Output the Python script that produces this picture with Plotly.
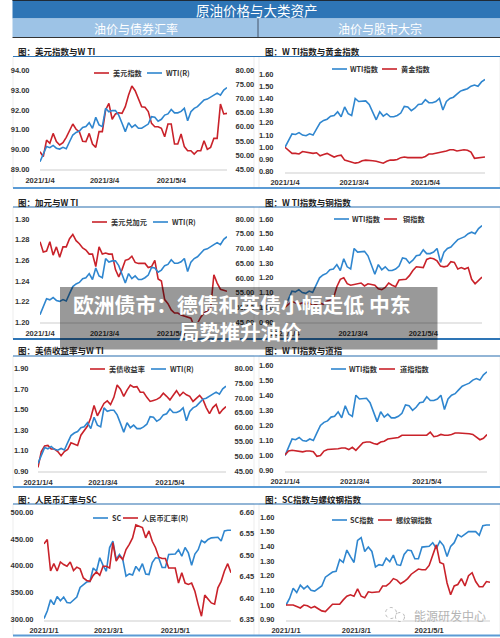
import pandas as pd
import plotly.graph_objects as go

# dates sampled every 3 days
dates_jan4 = pd.date_range("2021-01-04", periods=58, freq="3D")
dates_jan1 = pd.date_range("2021-01-01", periods=58, freq="3D")
ticks_jan4 = ["2021-01-04", "2021-03-04", "2021-05-04"]
ticks_jan1 = ["2021-01-01", "2021-03-01", "2021-05-01"]

wti_price = [47.6, 50.6, 53.0, 52.6, 53.4, 52.4, 52.1, 52.7, 52.2, 54.7, 57.1, 58.0, 58.5, 59.8, 60.1, 61.5, 59.5, 63.4, 60.7, 60.1,
             66.6, 65.4, 65.8, 65.8, 64.2, 61.3, 58.3, 61.5, 59.8, 60.7, 59.5, 59.5, 60.1, 61.0, 63.6, 63.4, 62.0, 62.7, 64.2, 64.6,
             66.2, 65.0, 65.0, 65.5, 66.6, 62.2, 65.4, 66.6, 67.2, 68.4, 69.6, 69.9, 70.5, 71.3, 72.0, 71.3, 73.1, 74.0]
wti_index = [1.00, 1.06, 1.11, 1.105, 1.12, 1.10, 1.095, 1.11, 1.10, 1.15, 1.20, 1.22, 1.23, 1.255, 1.26, 1.29, 1.25, 1.33, 1.275, 1.26,
             1.40, 1.375, 1.38, 1.38, 1.35, 1.29, 1.225, 1.29, 1.255, 1.275, 1.25, 1.25, 1.26, 1.28, 1.335, 1.33, 1.30, 1.32, 1.35, 1.355,
             1.39, 1.365, 1.365, 1.375, 1.40, 1.305, 1.375, 1.40, 1.41, 1.435, 1.46, 1.47, 1.48, 1.50, 1.51, 1.50, 1.535, 1.555]
usd_index = [89.88, 89.63, 90.47, 90.31, 90.81, 90.39, 90.22, 90.34, 90.61, 90.95, 91.29, 91.02, 90.9, 90.41, 90.39, 90.81, 90.27, 90.1, 90.9, 90.9,
             92.0, 92.34, 91.53, 91.8, 91.86, 91.83, 92.17, 92.76, 93.22, 92.98, 92.54, 92.17, 92.14, 91.92, 91.32, 91.15, 91.15, 91.07, 90.64, 91.29,
             91.29, 90.27, 90.27, 90.78, 90.14, 89.93, 89.93, 89.76, 89.93, 89.93, 90.44, 90.0, 90.1, 90.56, 90.56, 92.3, 91.8, 91.83]
gold_index = [1.00, 0.975, 0.95, 0.95, 0.945, 0.965, 0.96, 0.955, 0.95, 0.955, 0.93, 0.94, 0.95, 0.935, 0.92, 0.93, 0.935, 0.895, 0.885, 0.875,
              0.87, 0.875, 0.89, 0.895, 0.895, 0.89, 0.885, 0.88, 0.87, 0.885, 0.895, 0.895, 0.90, 0.915, 0.92, 0.915, 0.915, 0.91, 0.915, 0.915,
              0.925, 0.945, 0.945, 0.95, 0.96, 0.965, 0.97, 0.98, 0.98, 0.97, 0.975, 0.98, 0.975, 0.96, 0.91, 0.915, 0.915, 0.92]
usd_cad = [1.278, 1.268, 1.269, 1.278, 1.265, 1.273, 1.263, 1.273, 1.273, 1.281, 1.285, 1.279, 1.276, 1.272, 1.27, 1.266, 1.266, 1.254, 1.273, 1.266,
           1.267, 1.266, 1.266, 1.251, 1.244, 1.251, 1.26, 1.261, 1.264, 1.258, 1.257, 1.257, 1.257, 1.253, 1.254, 1.26, 1.242, 1.24, 1.222, 1.218,
           1.212, 1.209, 1.209, 1.207, 1.206, 1.205, 1.204, 1.196, 1.199, 1.205, 1.209, 1.211, 1.213, 1.246, 1.238, 1.232, 1.231, 1.23]
copper_index = [1.00, 1.02, 1.04, 1.03, 1.02, 1.03, 1.02, 1.03, 1.01, 1.02, 1.03, 1.02, 1.04, 1.05, 1.06, 1.14, 1.19, 1.20, 1.16, 1.15,
                1.155, 1.155, 1.165, 1.145, 1.16, 1.155, 1.15, 1.125, 1.12, 1.135, 1.165, 1.15, 1.14, 1.185, 1.185, 1.19, 1.215, 1.25, 1.275, 1.27,
                1.27, 1.325, 1.335, 1.33, 1.315, 1.28, 1.275, 1.28, 1.31, 1.305, 1.26, 1.27, 1.26, 1.27, 1.19, 1.16, 1.18, 1.205]
us_yield = [0.935, 1.09, 1.145, 1.15, 1.115, 1.115, 1.09, 1.05, 1.09, 1.11, 1.175, 1.16, 1.15, 1.25, 1.30, 1.34, 1.42, 1.54, 1.44, 1.50,
            1.56, 1.585, 1.55, 1.62, 1.74, 1.70, 1.63, 1.69, 1.74, 1.72, 1.725, 1.67, 1.67, 1.62, 1.58, 1.59, 1.60, 1.62, 1.66, 1.63,
            1.595, 1.64, 1.685, 1.635, 1.67, 1.645, 1.63, 1.58, 1.61, 1.64, 1.60, 1.52, 1.46, 1.52, 1.55, 1.46, 1.50, 1.53]
dow_index = [1.005, 1.03, 1.035, 1.03, 1.03, 1.025, 1.03, 1.03, 1.025, 0.995, 1.00, 1.03, 1.04, 1.04, 1.045, 1.045, 1.05, 1.05, 1.04, 1.055,
             1.035, 1.06, 1.085, 1.09, 1.09, 1.08, 1.075, 1.09, 1.095, 1.11, 1.115, 1.115, 1.12, 1.135, 1.135, 1.13, 1.135, 1.13, 1.135, 1.13,
             1.135, 1.155, 1.125, 1.13, 1.14, 1.135, 1.135, 1.14, 1.15, 1.15, 1.15, 1.15, 1.145, 1.14, 1.12, 1.105, 1.115, 1.14]
sc_price = [302, 316, 337, 328, 343, 335, 342, 332, 331, 337, 342, 360, 365, 370, 371, 396, 390, 415, 401, 390,
            434, 446, 412, 421, 412, 381, 385, 383, 399, 391, 404, 385, 384, 406, 415, 414, 397, 397, 421, 421,
            422, 430, 418, 434, 424, 401, 422, 430, 447, 443, 449, 452, 453, 453, 446, 465, 466, 466]
cny_rate = [6.526, 6.536, 6.463, 6.48, 6.463, 6.484, 6.478, 6.474, 6.484, 6.464, 6.472, 6.468, 6.447, 6.441, 6.439, 6.453, 6.461, 6.453, 6.474, 6.474,
            6.47, 6.529, 6.486, 6.498, 6.49, 6.513, 6.525, 6.54, 6.57, 6.567, 6.564, 6.54, 6.556, 6.532, 6.517, 6.495, 6.492, 6.492, 6.47, 6.47,
            6.47, 6.435, 6.459, 6.435, 6.432, 6.435, 6.416, 6.385, 6.358, 6.407, 6.397, 6.389, 6.386, 6.424, 6.439, 6.463, 6.48, 6.459]
sc_index = [1.00, 1.045, 1.115, 1.085, 1.135, 1.11, 1.13, 1.10, 1.095, 1.115, 1.13, 1.19, 1.21, 1.225, 1.23, 1.31, 1.29, 1.375, 1.33, 1.29,
            1.44, 1.46, 1.365, 1.395, 1.365, 1.26, 1.275, 1.27, 1.32, 1.295, 1.34, 1.275, 1.27, 1.345, 1.375, 1.37, 1.315, 1.315, 1.395, 1.395,
            1.40, 1.425, 1.385, 1.435, 1.405, 1.33, 1.40, 1.425, 1.48, 1.465, 1.485, 1.50, 1.50, 1.50, 1.475, 1.54, 1.545, 1.545]
rebar_index = [1.00, 1.00, 1.00, 0.99, 0.98, 1.00, 0.995, 0.98, 0.99, 0.975, 0.96, 0.955, 0.98, 1.005, 1.005, 1.005, 1.035, 1.06, 1.07, 1.06,
               1.11, 1.06, 1.05, 1.09, 1.085, 1.09, 1.09, 1.13, 1.13, 1.15, 1.18, 1.17, 1.145, 1.16, 1.18, 1.21, 1.225, 1.245, 1.24, 1.24,
               1.27, 1.34, 1.41, 1.29, 1.28, 1.15, 1.07, 1.13, 1.14, 1.18, 1.13, 1.20, 1.22, 1.16, 1.125, 1.125, 1.16, 1.155]

left_ticks_usd = [89, 90, 91, 92, 93, 94]
left_ticks_cad = [1.20, 1.22, 1.24, 1.26, 1.28, 1.30]
left_ticks_yield = [0.9, 1.1, 1.3, 1.5, 1.7, 1.9]
left_ticks_sc = [300, 350, 400, 450, 500]
right_ticks_wti = [45, 50, 55, 60, 65, 70, 75, 80]
right_ticks_cny = [6.35, 6.40, 6.45, 6.50, 6.55, 6.60]
ticks_idx_08 = [0.8, 0.9, 1.0, 1.1, 1.2, 1.3, 1.4, 1.5, 1.6]
ticks_idx_09 = [0.9, 1.0, 1.1, 1.2, 1.3, 1.4, 1.5, 1.6]

RED = "#C9222A"
BLUE = "#2F86CF"
TEXT = "#333333"
LINE_W = 1.6
LABEL_FONT = "Liberation Sans"
CJK_FONT = "Noto Sans CJK SC"
W, H = 500, 638


def px(x):
    return x / W


def py(y):
    return 1 - y / H


# box = plot area in image pixels (x0, x1, y0, y1)
panels = [
    dict(title="图：美元指数与W TI", title_xy=(16, 51), box=(40, 227, 70.7, 169), dates=dates_jan4, xticks=ticks_jan4,
         series=[("美元指数", usd_index, RED, "l"), ("WTI(R)", wti_price, BLUE, "r")],
         lticks=left_ticks_usd, rticks=right_ticks_wti, lfmt=".2f",
         legend=(73, (94, 109, 111), (147, 162, 164)), standoff=8),
    dict(title="图：W TI指数与黄金指数", title_xy=(263, 51), box=(285, 485, 74, 171.7), dates=dates_jan4, xticks=ticks_jan4,
         series=[("WTI指数", wti_index, BLUE, "l"), ("黄金指数", gold_index, RED, "l")],
         lticks=ticks_idx_08, rticks=None, lfmt=".2f",
         legend=(69, (332, 347, 348), (382, 397, 399)), standoff=9),
    dict(title="图：加元与W TI", title_xy=(16, 202), box=(40, 227, 219, 322.3), dates=dates_jan4, xticks=ticks_jan4,
         series=[("美元兑加元", usd_cad, RED, "l"), ("WTI(R)", wti_price, BLUE, "r")],
         lticks=left_ticks_cad, rticks=right_ticks_wti, lfmt=".2f",
         legend=(222, (92, 107, 109), (153, 168, 170)), standoff=8),
    dict(title="图：W TI指数与铜指数", title_xy=(263, 202), box=(285, 482, 219, 322), dates=dates_jan4, xticks=ticks_jan4,
         series=[("WTI指数", wti_index, BLUE, "l"), ("铜指数", copper_index, RED, "l")],
         lticks=ticks_idx_09, rticks=None, lfmt=".2f",
         legend=(219, (334, 349, 350), (384, 397, 401)), standoff=9),
    dict(title="图：美债收益率与W TI", title_xy=(16, 350), box=(38, 226, 368.7, 471), dates=dates_jan4, xticks=ticks_jan4,
         series=[("美债收益率", us_yield, RED, "l"), ("WTI(R)", wti_price, BLUE, "r")],
         lticks=left_ticks_yield, rticks=right_ticks_wti, lfmt=".2f",
         legend=(369, (90, 105, 107), (151, 166, 168)), standoff=7),
    dict(title="图：W TI指数与道指", title_xy=(263, 350), box=(285, 487, 365, 470.7), dates=dates_jan4, xticks=ticks_jan4,
         series=[("WTI指数", wti_index, BLUE, "l"), ("道指指数", dow_index, RED, "l")],
         lticks=ticks_idx_09, rticks=None, lfmt=".2f",
         legend=(369, (331, 346, 347), (379, 395, 398)), standoff=9),
    dict(title="图：人民币汇率与SC", title_xy=(16, 499), box=(44, 231, 512, 619.7), dates=dates_jan1, xticks=ticks_jan1,
         series=[("SC", sc_price, BLUE, "l"), ("人民币汇率(R)", cny_rate, RED, "r")],
         lticks=left_ticks_sc, rticks=right_ticks_cny, lfmt=".2f",
         legend=(518, (93, 108, 110), (123, 138, 140)), standoff=8),
    dict(title="图：SC指数与螺纹钢指数", title_xy=(263, 499), box=(286, 490, 517, 619.7), dates=dates_jan1, xticks=ticks_jan1,
         series=[("SC指数", sc_index, BLUE, "l"), ("螺纹钢指数", rebar_index, RED, "l")],
         lticks=ticks_idx_09, rticks=None, lfmt=".2f",
         legend=(520, (332, 347, 348), (378, 392, 394)), standoff=9),
]

fig = go.Figure()
layout = {}
shapes = []
annotations = []


def rect(x0, x1, y0, y1, fill, line=None, layer="below"):
    shapes.append(dict(type="rect", xref="paper", yref="paper", x0=px(x0), x1=px(x1), y0=py(y1), y1=py(y0),
                       fillcolor=fill, line=dict(color=line or "rgba(0,0,0,0)", width=1 if line else 0), layer=layer))


def hline(x0, x1, y, color, width):
    shapes.append(dict(type="line", xref="paper", yref="paper", x0=px(x0), x1=px(x1), y0=py(y), y1=py(y),
                       line=dict(color=color, width=width), layer="below"))


def label(x, y, text, size, color=TEXT, anchor="left", bold=False, family=CJK_FONT):
    annotations.append(dict(xref="paper", yref="paper", x=px(x), y=py(y), text=f"<b>{text}</b>" if bold else text, showarrow=False,
                            xanchor=anchor, yanchor="middle", font=dict(size=size, color=color, family=family)))


# header bands
rect(12.5, 500, 0, 18.5, "#2E75B6")
rect(12.5, 500, 18.5, 37, "#9DC3E6")
hline(12.5, 500, 0.5, "#1F2A36", 1)
hline(12.5, 500, 37.5, "#333333", 1.2)
shapes.append(dict(type="line", xref="paper", yref="paper", x0=px(258), x1=px(258), y0=py(18.5), y1=py(37),
                   line=dict(color="#44546A", width=1), layer="below"))
label(257, 10, "原油价格与大类资产", 13.5, "white", "center")
label(136, 28, "油价与债券汇率", 12, "white", "center")
label(380, 28, "油价与股市大宗", 12, "white", "center")

# panel frames: top rule, bottom rule, side lines
for top, bottom, rule in [(56.5, 188, "#5B9BD5"), (207, 339, "#2E75B6"), (356, 487, "#5B9BD5"), (504, 635.5, "#5B9BD5")]:
    rect(13, 254, top, bottom, "white", "#EDEDED")
    rect(259, 500, top, bottom, "white", "#EDEDED")
    hline(13, 500, top, "#2E75B6", 1)
    hline(13, 500, bottom, rule, 2)

for n, p in enumerate(panels):
    x0, x1, y0, y1 = p["box"]
    xname = f"xaxis{n + 1}"
    yname = f"yaxis{n + 1}"
    xref = f"x{n + 1}"
    yref = f"y{n + 1}"
    layout[xname] = dict(domain=[px(x0), px(x1)], anchor=yref, type="date", automargin=False,
                         range=[p["dates"][0], p["dates"][-1]], tickvals=p["xticks"], tickformat="%Y/%-m/%-d",
                         showgrid=False, zeroline=False, showline=True, linecolor="#E6E6E6", linewidth=1.5,
                         ticks="outside", ticklen=3, tickcolor="rgba(0,0,0,0)",
                         tickfont=dict(size=7.5, color=TEXT, family=LABEL_FONT, weight="bold"))
    layout[yname] = dict(domain=[py(y1), py(y0)], anchor=xref, range=[p["lticks"][0], p["lticks"][-1]], automargin=False,
                         tickvals=p["lticks"], tickformat=p["lfmt"], showgrid=False, zeroline=False, showline=False,
                         ticks="outside", ticklen=p["standoff"], tickcolor="rgba(0,0,0,0)",
                         tickfont=dict(size=7.5, color=TEXT, family=LABEL_FONT, weight="bold"))
    rref = None
    if p["rticks"]:
        rnum = n + 9
        rref = f"y{rnum}"
        layout[f"yaxis{rnum}"] = dict(domain=[py(y1), py(y0)], anchor=xref, overlaying=yref, side="right", automargin=False,
                                      range=[p["rticks"][0], p["rticks"][-1]], tickvals=p["rticks"], tickformat=".2f",
                                      showgrid=False, zeroline=False, showline=False,
                                      ticks="outside", ticklen=6, tickcolor="rgba(0,0,0,0)",
                                      tickfont=dict(size=7.5, color=TEXT, family=LABEL_FONT, weight="bold"))

    for name, values, color, side in p["series"]:
        fig.add_trace(go.Scatter(x=p["dates"], y=values, mode="lines", name=name, showlegend=False,
                                 line=dict(color=color, width=LINE_W), xaxis=xref, yaxis=rref if side == "r" else yref))

    # panel title
    label(p["title_xy"][0], p["title_xy"][1], p["title"], 8.5, "#222222", bold=True)

    # legend keys
    leg_y, key1, key2 = p["legend"]
    for key, (name, _, color, _side) in zip((key1, key2), p["series"]):
        shapes.append(dict(type="line", xref="paper", yref="paper", x0=px(key[0]), x1=px(key[1]), y0=py(leg_y), y1=py(leg_y),
                           line=dict(color=color, width=LINE_W)))
        label(key[2], leg_y, name, 7.2, "#333333", bold=True)

# watermark
label(412, 615, "能源研发中心", 12, "#B4B4B4")
for cx, cy, r in [(391, 613, 5.5), (400, 617, 4.5)]:
    shapes.append(dict(type="circle", xref="paper", yref="paper", x0=px(cx - r), x1=px(cx + r), y0=py(cy + r), y1=py(cy - r),
                       fillcolor="rgba(255,255,255,0.8)", line=dict(color="#A8A8A8", width=0.8, dash="dot")))

# headline banner over the charts
shapes.append(dict(type="rect", xref="paper", yref="paper", x0=px(60), x1=px(437.5), y0=py(349.5), y1=py(287),
                   fillcolor="rgba(0,0,0,0.4)", line=dict(width=0), layer="above"))
label(241, 304, "欧洲债市：德债和英债小幅走低 中东", 20.8, "white", "center", bold=True)
label(240, 331, "局势推升油价", 20.4, "white", "center", bold=True)

fig.update_layout(width=W, height=H, margin=dict(l=0, r=0, t=0, b=0, pad=0, autoexpand=False), paper_bgcolor="white", plot_bgcolor="white",
                  showlegend=False, shapes=shapes, annotations=annotations, **layout)

fig.write_html("out.html", config=dict(displayModeBar=False), post_script="document.body.style.margin='0';")
